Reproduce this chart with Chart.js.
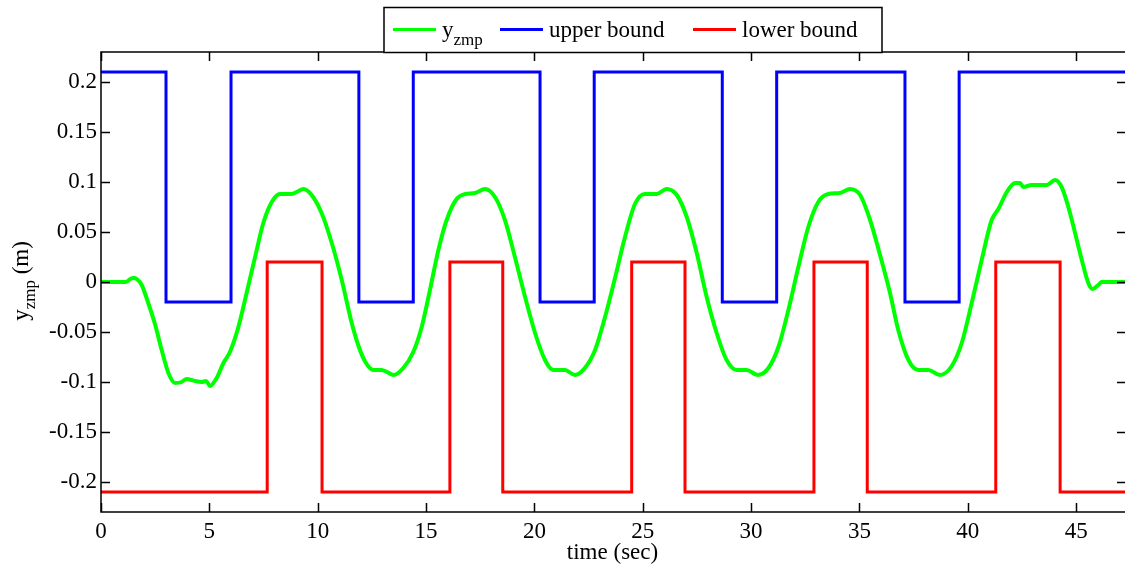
<!DOCTYPE html>
<html>
<head>
<meta charset="utf-8">
<script src="https://cdn.jsdelivr.net/npm/chart.js@4/dist/chart.umd.min.js"></script>
<style>
  html, body { margin: 0; padding: 0; background: #fff; overflow: hidden; }
  #wrap { position: relative; width: 1130px; height: 566px; }
</style>
</head>
<body>
<div id="wrap"><canvas id="c" width="1130" height="566"></canvas></div>
<script>
// ---- data ----
const xTickValues = [0, 5, 10, 15, 20, 25, 30, 35, 40, 45];
const xTickLabels = ['0', '5', '10', '15', '20', '25', '30', '35', '40', '45'];
const yTickValues = [-0.2, -0.15, -0.1, -0.05, 0, 0.05, 0.1, 0.15, 0.2];
const yTickLabels = ['-0.2', '-0.15', '-0.1', '-0.05', '0', '0.05', '0.1', '0.15', '0.2'];

const legendMain = ['y', 'upper bound', 'lower bound'];
const legendSub = ['zmp', '', ''];
const xTitle = 'time (sec)';
const yTitleMain = 'y';
const yTitleSub = 'zmp';
const yTitleTail = ' (m)';

// upper bound: value holds from this time on (step)
const upperT = [0, 3.0, 6.0, 11.9, 14.41, 20.26, 22.76, 28.67, 31.18, 37.1, 39.6, 47.3];
const upperV = [0.21, -0.02, 0.21, -0.02, 0.21, -0.02, 0.21, -0.02, 0.21, -0.02, 0.21, 0.21];

const lowerT = [0, 7.67, 10.2, 16.1, 18.54, 24.49, 26.95, 32.9, 35.36, 41.29, 44.26, 47.3];
const lowerV = [-0.21, 0.02, -0.21, 0.02, -0.21, 0.02, -0.21, 0.02, -0.21, 0.02, -0.21, -0.21];

const zmpT = [0, 1.15, 1.35, 1.5, 1.65, 1.88, 2.18, 2.49, 2.8, 3.11, 3.42, 3.72, 3.95, 4.34, 4.65, 4.85, 5.03, 5.34, 5.65, 5.95,
  6.34, 6.72, 7.11, 7.49, 7.88, 8.26, 8.8, 9.03, 9.34, 9.72, 10.18, 10.65, 11.11, 11.57, 11.9, 12.2, 12.57, 12.95, 13.2, 13.49,
  13.95, 14.41, 14.8, 15.18, 15.57, 15.95, 16.41, 16.8, 17.26, 17.72, 18.18, 18.64, 19.1, 19.57, 20.03, 20.49, 20.87, 21.41, 21.87, 22.33,
  22.8, 23.26, 23.72, 24.18, 24.64, 25.1, 25.64, 26.1, 26.57, 27.03, 27.49, 27.95, 28.41, 28.87, 29.34, 29.8, 30.3, 30.8, 31.26, 31.72,
  32.18, 32.64, 33.1, 33.56, 34.1, 34.56, 35.03, 35.49, 35.95, 36.41, 36.79, 37.26, 37.72, 38.18, 38.72, 39.26, 39.72, 40.18, 40.64, 41.1,
  41.41, 41.8, 42.18, 42.41, 42.56, 42.95, 43.64, 44.03, 44.33, 44.64, 44.95, 45.26, 45.56, 45.75, 46.02, 46.18, 47.3];
const zmpV = [0, 0, 0.003, 0.004, 0.003, -0.003, -0.021, -0.042, -0.068, -0.091, -0.101, -0.1, -0.097, -0.099, -0.1, -0.099, -0.104, -0.096, -0.081, -0.07,
  -0.045, -0.011, 0.025, 0.059, 0.080, 0.088, 0.088, 0.09, 0.093, 0.087, 0.069, 0.039, 0.002, -0.041, -0.065, -0.08, -0.088, -0.088, -0.09, -0.093,
  -0.086, -0.07, -0.045, -0.008, 0.032, 0.062, 0.083, 0.088, 0.089, 0.093, 0.085, 0.062, 0.025, -0.015, -0.051, -0.078, -0.088, -0.088, -0.093, -0.086,
  -0.068, -0.035, 0.004, 0.045, 0.078, 0.088, 0.088, 0.093, 0.087, 0.065, 0.029, -0.015, -0.051, -0.078, -0.088, -0.088, -0.093, -0.086, -0.065, -0.028,
  0.015, 0.055, 0.08, 0.088, 0.089, 0.093, 0.087, 0.062, 0.027, -0.011, -0.048, -0.078, -0.088, -0.088, -0.093, -0.084, -0.061, -0.021, 0.022, 0.062,
  0.073, 0.09, 0.099, 0.099, 0.095, 0.097, 0.097, 0.102, 0.095, 0.075, 0.049, 0.022, -0.001, -0.007, -0.003, 0, 0];

const toPts = (ts, vs) => ts.map((t, i) => ({ x: t, y: vs[i] }));

const FONT = '"Liberation Serif", "Times New Roman", serif';
const FSIZE = 23;

const framePlugin = {
  id: 'matlabFrame',
  afterDraw(chart) {
    const { ctx, chartArea: { left, right, top, bottom }, scales: { x, y } } = chart;
    ctx.save();
    ctx.strokeStyle = '#000';
    ctx.lineWidth = 1.5;
    ctx.strokeRect(left, top, right - left, bottom - top);
    ctx.beginPath();
    xTickValues.forEach(v => {
      const px = Math.round(x.getPixelForValue(v)) + 0.5;
      ctx.moveTo(px, bottom); ctx.lineTo(px, bottom - 9);
      ctx.moveTo(px, top); ctx.lineTo(px, top + 9);
    });
    yTickValues.forEach(v => {
      const py = Math.round(y.getPixelForValue(v)) + 0.5;
      ctx.moveTo(left, py); ctx.lineTo(left + 9, py);
      ctx.moveTo(right, py); ctx.lineTo(right - 9, py);
    });
    ctx.stroke();

    const mainF = FSIZE + 'px ' + FONT, subF = '17px ' + FONT;

    // x title
    ctx.fillStyle = '#000';
    ctx.font = mainF;
    ctx.textAlign = 'center';
    ctx.textBaseline = 'alphabetic';
    ctx.fillText(xTitle, (left + right) / 2 - 1, 559);

    // y title (rotated, with subscript)
    ctx.save();
    ctx.translate(28, 281);
    ctx.rotate(-Math.PI / 2);
    ctx.textAlign = 'left';
    ctx.font = mainF; const w1 = ctx.measureText(yTitleMain).width;
    ctx.font = subF; const w2 = ctx.measureText(yTitleSub).width;
    ctx.font = mainF; const w3 = ctx.measureText(yTitleTail).width;
    let sx = -(w1 + w2 + w3) / 2;
    ctx.font = mainF; ctx.fillText(yTitleMain, sx, 0); sx += w1;
    ctx.font = subF; ctx.fillText(yTitleSub, sx, 7); sx += w2;
    ctx.font = mainF; ctx.fillText(yTitleTail, sx, 0);
    ctx.restore();

    // legend box
    const lx = 384, ly = 7.5, lw = 498, lh = 45;
    ctx.fillStyle = '#fff';
    ctx.fillRect(lx, ly, lw, lh);
    ctx.strokeStyle = '#000';
    ctx.lineWidth = 1.5;
    ctx.strokeRect(lx, ly, lw, lh);
    const itemX = [393, 500, 693];
    chart.data.datasets.forEach((ds, i) => {
      const x0 = itemX[i];
      ctx.strokeStyle = ds.borderColor;
      ctx.lineWidth = 3;
      ctx.beginPath();
      ctx.moveTo(x0, 29.5); ctx.lineTo(x0 + 43, 29.5);
      ctx.stroke();
      ctx.fillStyle = '#000';
      ctx.textAlign = 'left';
      ctx.font = mainF;
      ctx.fillText(legendMain[i], x0 + 49, 37);
      if (legendSub[i]) {
        const w = ctx.measureText(legendMain[i]).width;
        ctx.font = subF;
        ctx.fillText(legendSub[i], x0 + 49 + w, 45);
      }
    });
    ctx.restore();
  }
};

new Chart(document.getElementById('c'), {
  type: 'line',
  data: {
    datasets: [
      { label: 'y_zmp', data: toPts(zmpT, zmpV), borderColor: '#00ff00', borderWidth: 4, pointRadius: 0,
        tension: 0.4, cubicInterpolationMode: 'monotone', fill: false },
      { label: 'upper bound', data: toPts(upperT, upperV), borderColor: '#0000ff', borderWidth: 3, pointRadius: 0,
        stepped: 'before', fill: false },
      { label: 'lower bound', data: toPts(lowerT, lowerV), borderColor: '#ff0000', borderWidth: 3, pointRadius: 0,
        stepped: 'before', fill: false }
    ]
  },
  options: {
    responsive: false,
    animation: false,
    events: [],
    layout: { padding: { top: 52, right: 4, left: 0, bottom: 0 } },
    plugins: { legend: { display: false }, tooltip: { enabled: false }, title: { display: false } },
    scales: {
      x: {
        type: 'linear', min: 0, max: 47.3,
        grid: { display: false, drawTicks: false }, border: { display: false },
        afterBuildTicks: s => { s.ticks = xTickValues.map(v => ({ value: v })); },
        afterFit: s => { s.height = 54; },
        ticks: { color: '#000', font: { family: FONT, size: FSIZE }, padding: 6, maxRotation: 0,
          callback: (v, i) => xTickLabels[i] }
      },
      y: {
        type: 'linear', min: -0.23, max: 0.23,
        grid: { display: false, drawTicks: false }, border: { display: false },
        afterBuildTicks: s => { s.ticks = yTickValues.map(v => ({ value: v })); },
        afterFit: s => { s.width = 101; },
        ticks: { color: '#000', font: { family: FONT, size: FSIZE }, padding: 4,
          callback: (v, i) => yTickLabels[i] }
      }
    }
  },
  plugins: [framePlugin]
});
</script>
</body>
</html>
